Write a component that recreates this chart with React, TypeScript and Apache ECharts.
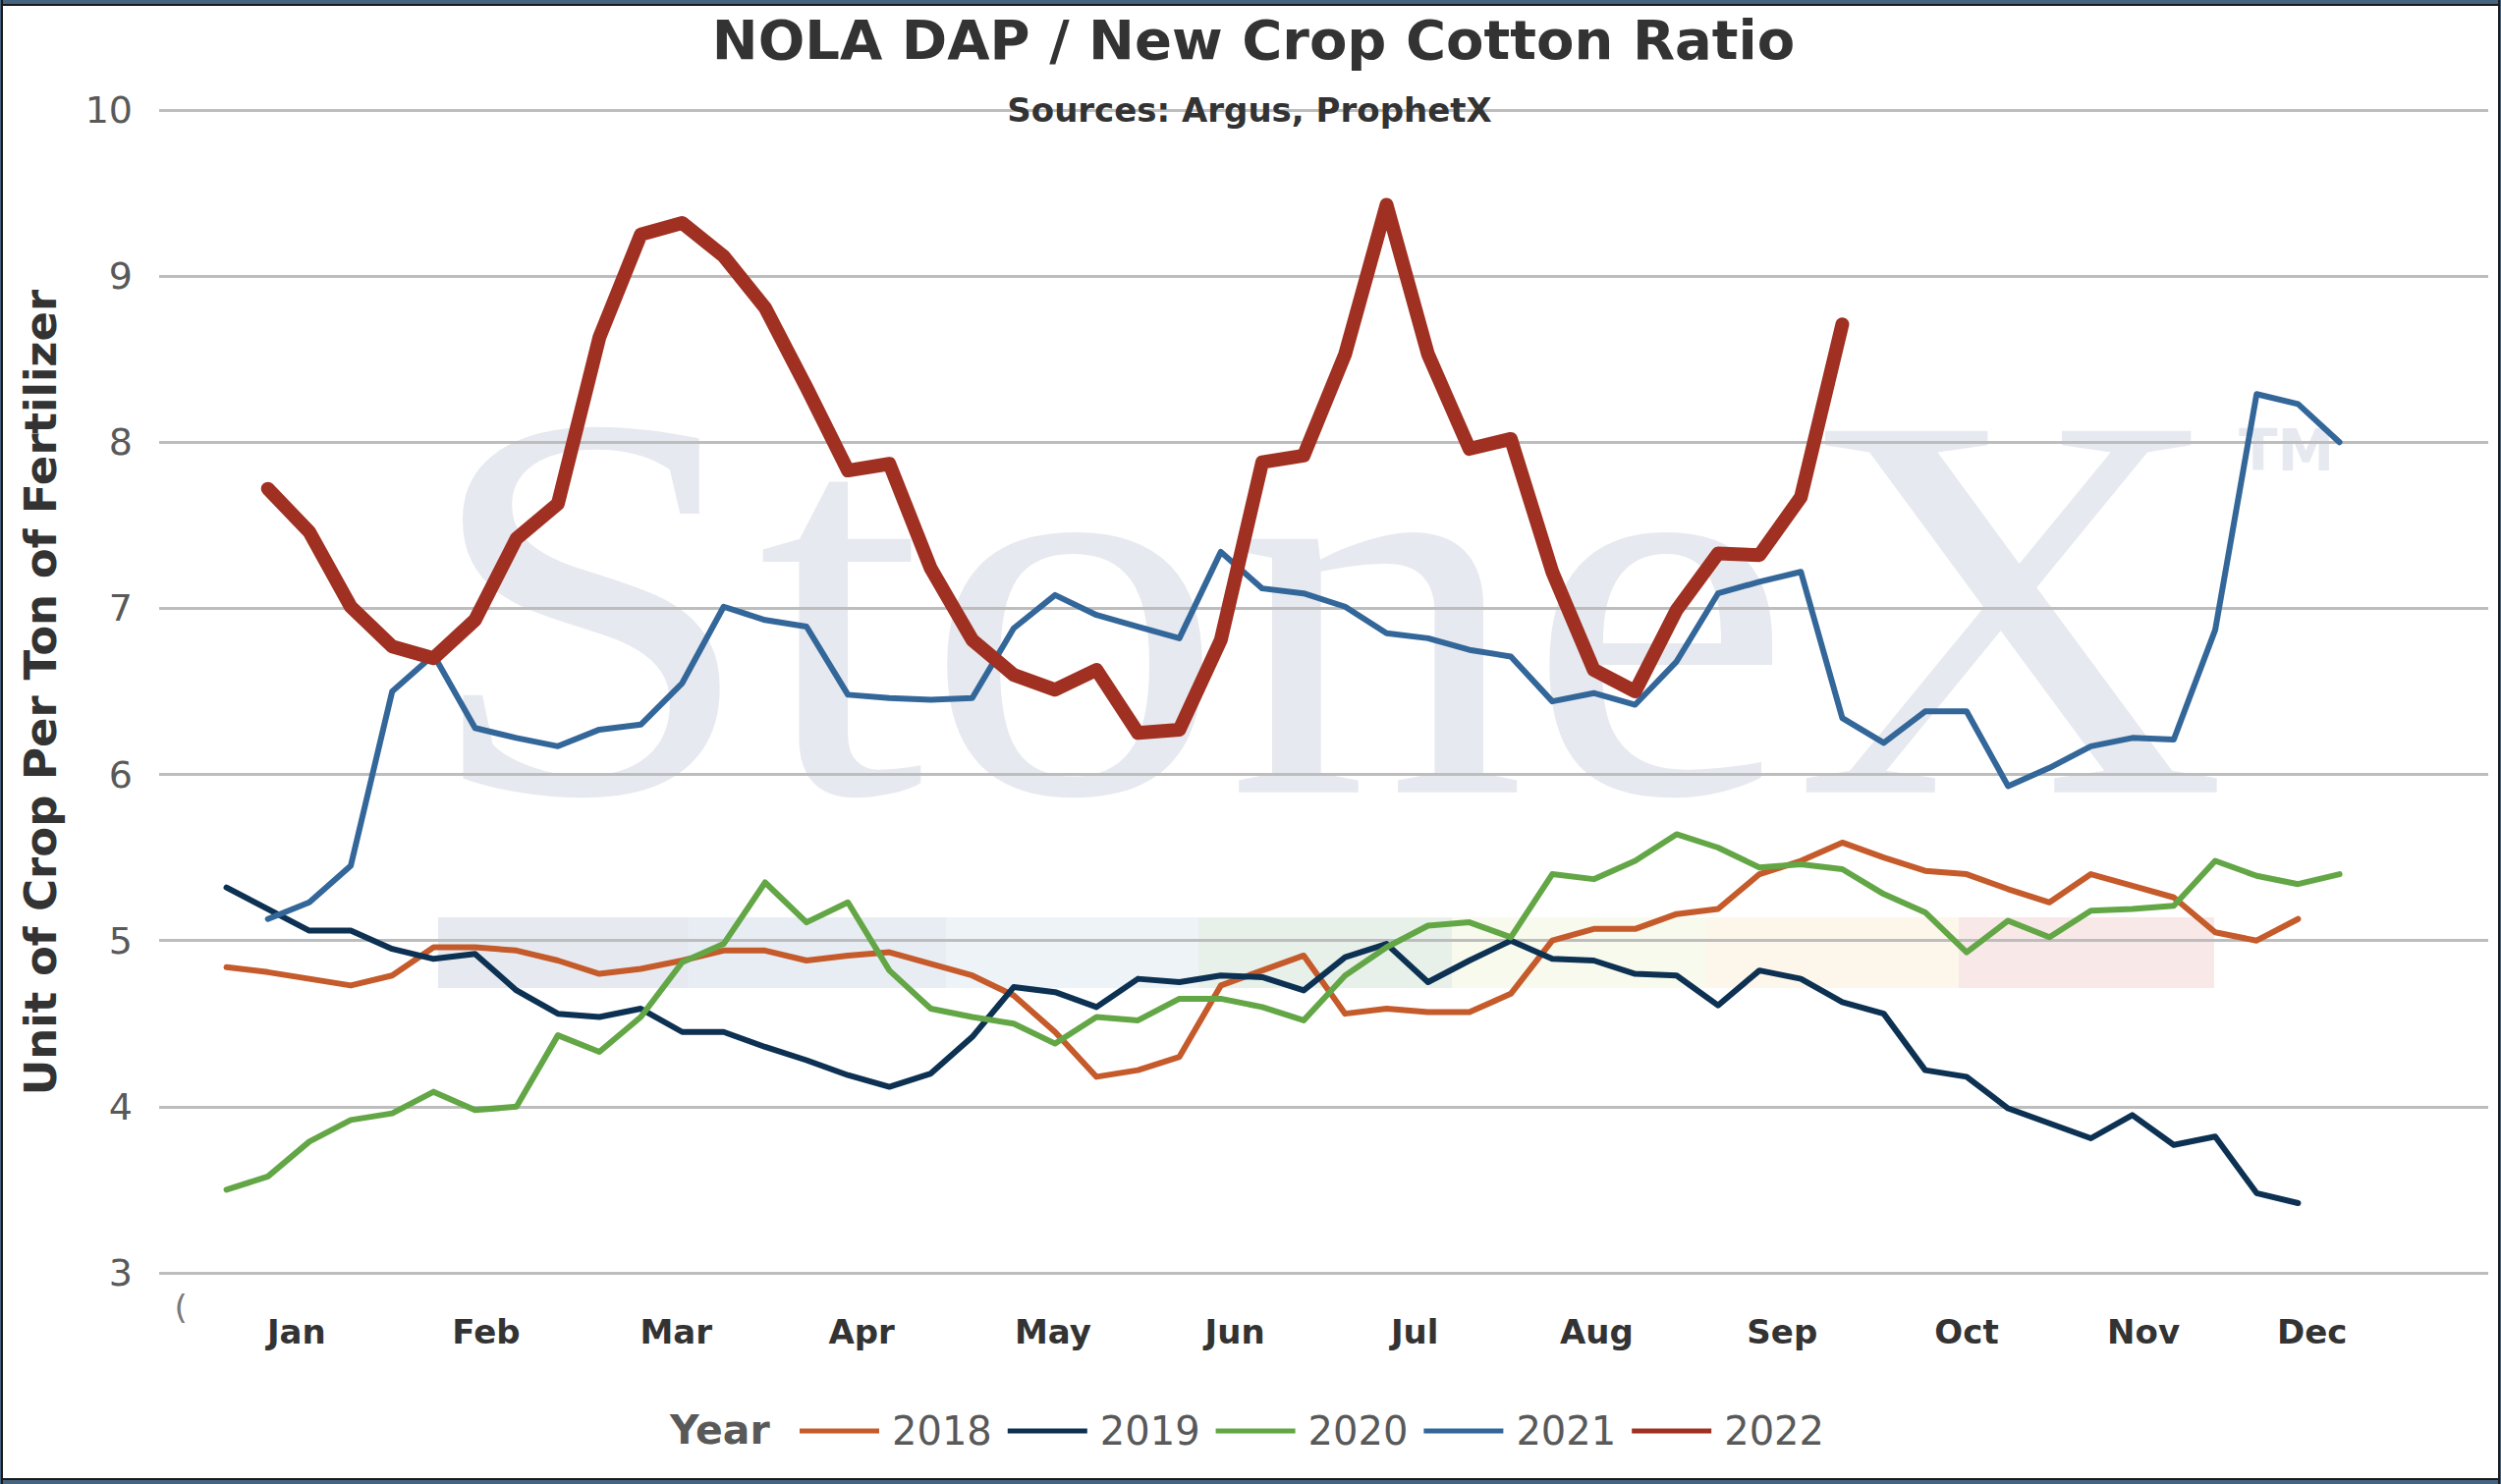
import React, { useEffect, useRef } from "react";
import * as echarts from "echarts";

// Week numbers (x positions of the weekly observations)
const weeks = [
  1, 2, 3, 4, 5, 6, 7, 8, 9, 10, 11, 12, 13, 14, 15, 16, 17, 18, 19, 20, 21, 22, 23, 24, 25, 26,
  27, 28, 29, 30, 31, 32, 33, 34, 35, 36, 37, 38, 39, 40, 41, 42, 43, 44, 45, 46, 47, 48, 49, 50, 51, 52,
];

// Month tick labels and the week positions where they sit
const monthLabels = ["Jan", "Feb", "Mar", "Apr", "May", "Jun", "Jul", "Aug", "Sep", "Oct", "Nov", "Dec"];
const monthPositions = [2.69, 7.27, 11.85, 16.33, 20.95, 25.34, 29.68, 34.07, 38.55, 43.0, 47.27, 51.34];

const years = ["2018", "2019", "2020", "2021", "2022"];

const values2018 = [
  4.84, 4.81, 4.77, 4.73, 4.79, 4.96, 4.96, 4.94, 4.88, 4.8, 4.83, 4.88, 4.94, 4.94, 4.88, 4.91, 4.93, 4.86,
  4.79, 4.67, 4.45, 4.18, 4.22, 4.3, 4.73, 4.82, 4.91, 4.56, 4.59, 4.57, 4.57, 4.68, 5.0, 5.07, 5.07, 5.16,
  5.19, 5.4, 5.48, 5.59, 5.5, 5.42, 5.4, 5.31, 5.23, 5.4, 5.33, 5.26, 5.05, 5.0, 5.13, null,
];
const values2019 = [
  5.32, 5.19, 5.06, 5.06, 4.95, 4.89, 4.92, 4.7, 4.56, 4.54, 4.59, 4.45, 4.45, 4.36, 4.28, 4.19, 4.12, 4.2,
  4.42, 4.72, 4.69, 4.6, 4.77, 4.75, 4.79, 4.78, 4.7, 4.9, 4.98, 4.75, 4.88, 5.0, 4.89, 4.88, 4.8, 4.79,
  4.61, 4.82, 4.77, 4.63, 4.56, 4.22, 4.18, 3.99, 3.9, 3.81, 3.95, 3.77, 3.82, 3.48, 3.42, null,
];
const values2020 = [
  3.5, 3.58, 3.79, 3.92, 3.96, 4.09, 3.98, 4.0, 4.43, 4.33, 4.54, 4.87, 4.98, 5.35, 5.11, 5.23, 4.82, 4.59,
  4.54, 4.5, 4.38, 4.54, 4.52, 4.65, 4.65, 4.6, 4.52, 4.79, 4.96, 5.09, 5.11, 5.02, 5.4, 5.37, 5.48, 5.64,
  5.56, 5.44, 5.46, 5.43, 5.28, 5.17, 4.93, 5.12, 5.02, 5.18, 5.19, 5.21, 5.48, 5.39, 5.34, 5.4,
];
const values2021 = [
  null, 5.13, 5.23, 5.45, 6.5, 6.72, 6.28, 6.22, 6.17, 6.27, 6.3, 6.55, 7.01, 6.93, 6.89, 6.48, 6.46, 6.45,
  6.46, 6.88, 7.08, 6.96, 6.89, 6.82, 7.34, 7.12, 7.09, 7.01, 6.85, 6.82, 6.75, 6.71, 6.44, 6.49, 6.42, 6.68,
  7.09, 7.16, 7.22, 6.34, 6.19, 6.38, 6.38, 5.93, 6.04, 6.17, 6.22, 6.21, 6.87, 8.29, 8.23, 8.0,
];
const values2022 = [
  null, 7.72, 7.46, 7.01, 6.77, 6.7, 6.93, 7.42, 7.63, 8.63, 9.25, 9.32, 9.12, 8.81, 8.33, 7.83, 7.87, 7.24,
  6.81, 6.6, 6.51, 6.63, 6.25, 6.27, 6.81, 7.88, 7.92, 8.53, 9.43, 8.53, 7.96, 8.02, 7.22, 6.63, 6.5, 6.99,
  7.33, 7.32, 7.67, 8.71, null, null, null, null, null, null, null, null, null, null, null, null,
];

const seriesValues = [values2018, values2019, values2020, values2021, values2022];
const seriesColors = ["#c55a2a", "#0c3152", "#63a646", "#336699", "#a03022"];
const seriesWidths = [6, 6, 6, 6, 14];

const FONT = "DejaVu Sans, Verdana, sans-serif";

function txt(text: string, x: number, y: number, opts: any, extra: any = {}) {
  const align = opts.align || "left";
  const valign = opts.verticalAlign || "middle";
  return {
    type: "text",
    x,
    y,
    silent: true,
    ...extra,
    style: {
      text,
      fill: opts.fill,
      fontSize: opts.fontSize,
      fontFamily: opts.fontFamily || FONT,
      fontWeight: opts.fontWeight || "normal",
      align,
      verticalAlign: valign,
      textAlign: align,
      textVerticalAlign: valign,
    },
  };
}

export default function App() {
  const ref = useRef<HTMLDivElement>(null);

  useEffect(() => {
    document.body.style.margin = "0";
    const el = ref.current;
    if (!el) return;
    const chart = echarts.init(el, null, { renderer: "svg" });

    const series = years.map((name, i) => ({
      name,
      type: "line",
      data: weeks
        .map((w, j) => [w, seriesValues[i][j]])
        .filter((p) => p[1] !== null && p[1] !== undefined),
      showSymbol: false,
      symbol: "none",
      smooth: false,
      silent: true,
      z: 2 + i,
      itemStyle: { color: seriesColors[i] },
      lineStyle: { color: seriesColors[i], width: seriesWidths[i], cap: "round", join: "round" },
      emphasis: { disabled: true },
    }));

    const barEdges = [446, 701, 963, 1220, 1478, 1737, 1994, 2254];
    const barColors = ["#e6eaf0", "#e8edf4", "#eef3f8", "#e8f0ea", "#f8faed", "#fdf6ea", "#f8e8e8"];
    const bars = barColors.map((c, i) => ({
      type: "rect",
      z: -1,
      silent: true,
      shape: { x: barEdges[i], y: 934, width: barEdges[i + 1] - barEdges[i], height: 72 },
      style: { fill: c },
    }));

    const frame = [
      { x: 0, y: 0, width: 2546, height: 4, fill: "#45647f" },
      { x: 0, y: 4, width: 2546, height: 2, fill: "#1a1a1a" },
      { x: 0, y: 1505, width: 2546, height: 2, fill: "#1a1a1a" },
      { x: 0, y: 1507, width: 2546, height: 4, fill: "#45647f" },
      { x: 0, y: 0, width: 1, height: 1511, fill: "#45647f" },
      { x: 1, y: 0, width: 2, height: 1511, fill: "#1a1a1a" },
      { x: 2543, y: 0, width: 2, height: 1511, fill: "#1a1a1a" },
      { x: 2545, y: 0, width: 1, height: 1511, fill: "#45647f" },
    ].map((r) => ({
      type: "rect",
      z: 20,
      silent: true,
      shape: { x: r.x, y: r.y, width: r.width, height: r.height },
      style: { fill: r.fill },
    }));

    const option: any = {
      animation: false,
      backgroundColor: "#ffffff",
      grid: { left: 162, right: 13, top: 112, bottom: 215, containLabel: false },
      xAxis: {
        type: "value",
        min: -0.625,
        max: 55.59,
        axisLine: { show: false },
        axisTick: { show: false },
        splitLine: { show: false },
        axisLabel: {
          customValues: monthPositions,
          formatter: (v: number) => {
            let best = 0;
            for (let i = 1; i < monthPositions.length; i++) {
              if (Math.abs(monthPositions[i] - v) < Math.abs(monthPositions[best] - v)) best = i;
            }
            return monthLabels[best];
          },
          fontFamily: FONT,
          fontWeight: "bold",
          fontSize: 34,
          lineHeight: 34,
          color: "#333333",
          margin: 43,
        },
      },
      yAxis: {
        type: "value",
        min: 3,
        max: 10,
        interval: 1,
        axisLine: { show: false },
        axisTick: { show: false },
        splitLine: { show: true, lineStyle: { color: "#bdbdbd", width: 3 } },
        axisLabel: { fontFamily: FONT, fontSize: 38, color: "#595959", margin: 27 },
      },
      legend: {
        data: years,
        left: 809,
        top: 1427,
        icon: "rect",
        itemWidth: 81,
        itemHeight: 5,
        itemGap: 16,
        selectedMode: false,
        textStyle: {
          fontFamily: FONT,
          fontSize: 40,
          color: "#595959",
          lineHeight: 50,
          padding: [0, 0, 0, 8],
        },
      },
      graphic: [
        ...bars,
        txt("StoneX", 430, 617, { fill: "#e6e9ef", fontSize: 562, fontFamily: "Liberation Serif, Times New Roman, serif" }, { z: -1, scaleX: 1.09 }),
        txt("TM", 2279, 459, { fill: "#e6e9ef", fontSize: 58, fontWeight: "bold" }, { z: -1 }),
        txt("NOLA DAP / New Crop Cotton Ratio", 1276, 40, { fill: "#333333", fontSize: 56, fontWeight: "bold", align: "center" }, { z: 10 }),
        txt("Sources: Argus, ProphetX", 1272, 112, { fill: "#333333", fontSize: 34, fontWeight: "bold", align: "center" }, { z: 10 }),
        txt("Unit of Crop Per Ton of Fertilizer", 41, 705, { fill: "#333333", fontSize: 45, fontWeight: "bold", align: "center" }, { z: 10, rotation: Math.PI / 2 }),
        txt("Year", 682, 1456, { fill: "#595959", fontSize: 41, fontWeight: "bold" }, { z: 10 }),
        txt("(", 184, 1331, { fill: "#7a7a7a", fontSize: 34, align: "center" }, { z: 10 }),
        ...frame,
      ],
      series,
    };

    chart.setOption(option);
    return () => chart.dispose();
  }, []);

  return <div ref={ref} style={{ width: 2546, height: 1511, background: "#ffffff" }} />;
}
